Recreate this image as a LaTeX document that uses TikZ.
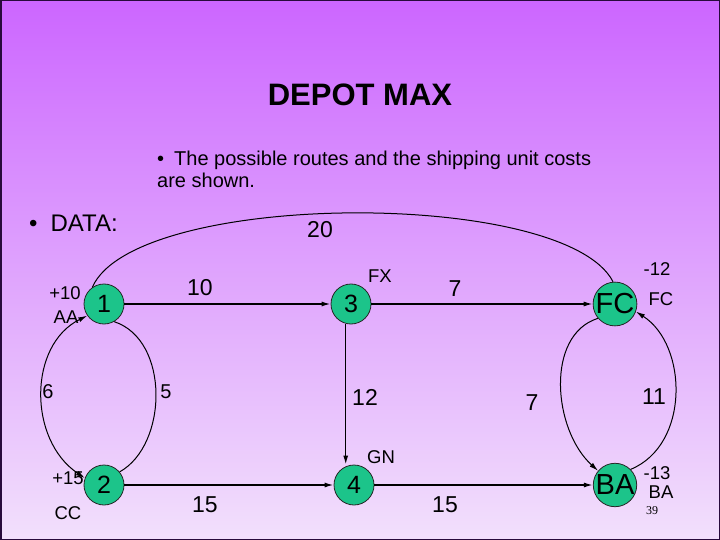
\documentclass[tikz,border=0pt]{standalone}
\usepackage{fontspec}
\setmainfont{Liberation Sans}
\newfontfamily\serifnum{Liberation Serif}
\usetikzlibrary{arrows.meta}
\definecolor{bgtop}{RGB}{204,102,255}
\definecolor{bgbot}{RGB}{242,224,252}
\definecolor{nodegreen}{RGB}{28,196,138}
\definecolor{edgedark}{RGB}{40,10,60}
\begin{document}
\begin{tikzpicture}[x=1pt,y=-1pt,
  station/.style={circle,draw=black!85,line width=0.8pt,fill=nodegreen,minimum size=40pt,inner sep=0pt,font=\fontsize{25}{25}\selectfont},
  bigstation/.style={station,font=\fontsize{29}{29}\selectfont},
  lab/.style={font=\fontsize{23}{23}\selectfont,inner sep=0pt},
  midlab/.style={font=\fontsize{20}{20}\selectfont,inner sep=0pt},
  small/.style={font=\fontsize{18.5}{18.5}\selectfont,inner sep=0pt},
  tip/.tip={Latex[length=9pt,width=5pt]},
  arr/.style={-tip,line width=1.4pt},
  curve/.style={line width=1pt}]
\useasboundingbox (0,0) rectangle (720,540);
\shade[top color=bgtop,bottom color=bgbot] (0,0) rectangle (720,540);
\draw[line width=1.5pt,edgedark] (0.75,0.75) rectangle (719.25,539.25);

% texts
\node[font=\bfseries\fontsize{31}{31}\selectfont,inner sep=0pt] (title) at (360,95) {DEPOT MAX};
\node[anchor=base west,inner sep=0pt,font=\fontsize{20}{20}\selectfont] (b1) at (157,166) {•\hspace{10pt}The possible routes and the shipping unit costs};
\node[anchor=base west,inner sep=0pt,font=\fontsize{20}{20}\selectfont] (b2) at (157,188) {are shown.};
\node[anchor=base west,inner sep=0pt,font=\fontsize{24}{24}\selectfont] (data) at (29,232) {•\hspace{13pt}DATA:};

% nodes
\node[station] (n1) at (104,304) {1};
\node[station] (n3) at (351,304) {3};
\node[bigstation] (fc) at (615,304) {FC};
\node[station] (n2) at (104,485) {2};
\node[station] (n4) at (354,485) {4};
\node[bigstation] (ba) at (615,485) {BA};

% edges
\draw[arr] (n1) -- (n3);
\draw[arr] (n3) -- (fc);
\draw[arr] (n2) -- (n4);
\draw[arr] (n4) -- (ba);
\draw[arr] (n3.255) -- (n3.255 |- n4.north);
\draw[curve] (n1.125) .. controls (135,190) and (565,188) .. (fc.95);
\draw[curve,tip-tip] (n1.215) .. controls (28,345) and (28,440) .. (n2.160);
\draw[curve] (n1.300) .. controls (170,340) and (168,445) .. (n2.40);
\draw[curve,-tip] (fc.220) .. controls (545,335) and (553,430) .. (ba.140);
\draw[curve,-tip] (ba.45) .. controls (690,445) and (688,345) .. (fc.340);

% labels
\node[lab] (l20) at (320,230) {20};
\node[lab] (l10) at (200,288) {10};
\node[small] (lfx) at (380,276) {FX};
\node[lab] (l7a) at (455,289) {7};
\node[small] (lm12) at (657,269) {-12};
\node[small] (lfc) at (661,299) {FC};
\node[small] (lp10) at (65,293) {+10};
\node[small] (laa) at (66,317) {AA};
\node[midlab] (l6) at (48,392) {6};
\node[midlab] (l5) at (166,392) {5};
\node[small] (lp15) at (68,478) {+15};
\node[small] (lcc) at (68,513) {CC};
\node[lab] (l15a) at (205,505) {15};
\node[lab] (l12) at (365,397) {12};
\node[lab] (l7b) at (532,403) {7};
\node[lab] (l11) at (654,397) {11};
\node[small] (lgn) at (381,457) {GN};
\node[lab] (l15b) at (445,505) {15};
\node[small] (lm13) at (657,473) {-13};
\node[small] (lba) at (661,492) {BA};
\node[font=\serifnum\fontsize{12}{12}\selectfont,inner sep=0pt] (pg) at (652,511) {39};
\end{tikzpicture}
\end{document}
